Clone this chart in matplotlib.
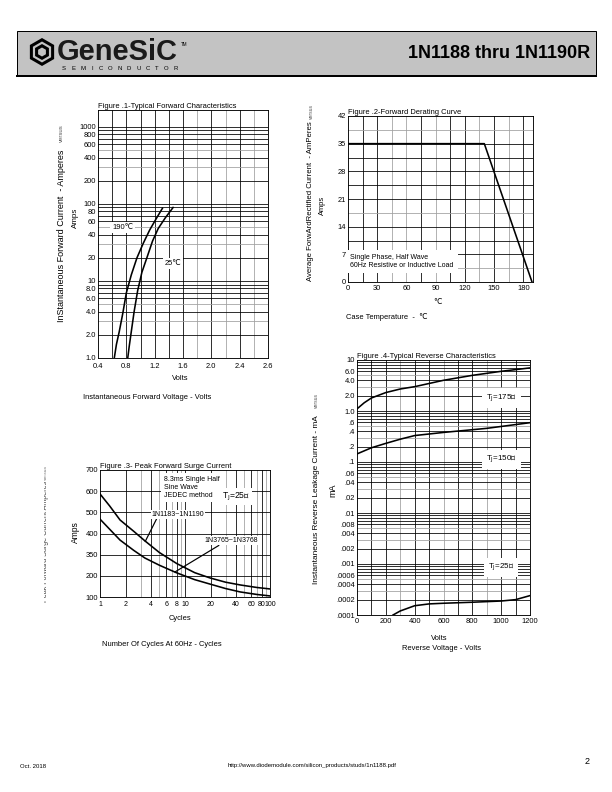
import numpy as np
import matplotlib.pyplot as plt
from matplotlib.patches import Rectangle, Polygon
from matplotlib.transforms import Bbox, TransformedBbox

plt.rcParams['font.family'] = ['Liberation Sans', 'DejaVu Sans']
plt.rcParams['mathtext.fontset'] = 'dejavusans'

# Figure 1 - typical forward characteristics
v_190 = [0.63, 0.66, 0.70, 0.75, 0.80, 0.87, 0.95, 1.04, 1.13, 1.22, 1.31]
i_190 = [1.0, 1.5, 2.2, 3.8, 7.0, 12, 20, 31, 46, 64, 88]
v_25 = [0.82, 0.84, 0.87, 0.91, 0.96, 1.02, 1.09, 1.17, 1.25, 1.35, 1.46]
i_25 = [1.0, 1.4, 2.2, 4.0, 7.5, 13, 20, 33, 48, 66, 90]
f1_yticks = [1000, 800, 600, 400, 200, 100, 80, 60, 40, 20, 10, 8, 6, 4, 2, 1]
f1_ylabels = ['1000', '800', '600', '400', '200', '100', '80', '60', '40', '20',
              '10', '8.0', '6.0', '4.0', '2.0', '1.0']
f1_xticks = [0.4, 0.8, 1.2, 1.6, 2.0, 2.4, 2.8]
f1_xlabels = ['0.4', '0.8', '1.2', '1.6', '2.0', '2.4', '2.6']

# Figure 2 - forward derating curve
case_temp = [0, 140, 189]
avg_current = [35, 35, 0]

# Figure 3 - peak forward surge current
cycles = [1, 1.3, 1.72, 2.5, 3.38, 5, 8, 13, 19.7, 30, 44.5, 70, 100]
surge_1n1183 = [587, 530, 464, 410, 365, 310, 258, 215, 190, 170, 157, 145, 138]
surge_1n3765 = [468, 420, 369, 320, 284, 250, 214, 182, 161, 140, 124, 112, 105]
f3_xticks = [1, 2, 4, 6, 8, 10, 20, 40, 60, 80, 100]
f3_yticks = [100, 200, 300, 400, 500, 600, 700]
f3_ylabels = ['100', '200', '350', '400', '500', '600', '700']

# Figure 4 - typical reverse characteristics
vr_175 = [0, 50, 100, 200, 300, 400, 600, 800, 1000, 1200]
ir_175 = [1.1, 1.45, 1.8, 2.3, 2.7, 3.0, 4.0, 5.0, 6.0, 7.0]
vr_150 = [0, 100, 200, 300, 400, 600, 900, 1200]
ir_150 = [0.144, 0.19, 0.232, 0.28, 0.33, 0.38, 0.457, 0.59]
vr_25 = [250, 300, 400, 500, 600, 800, 1000, 1100, 1200]
ir_25 = [0.0001, 0.00012, 0.000152, 0.000165, 0.00017, 0.000178, 0.000188, 0.0002, 0.00024]
f4_yticks = [10, 6, 4, 2, 1, .6, .4, .2, .1, .06, .04, .02, .01, .006, .004, .002,
             .001, .0006, .0004, .0002, .0001]
f4_ylabels = ['10', '6.0', '4.0', '2.0', '1.0', '.6', '.4', '.2', '.1', '.06', '.04',
              '.02', '.01', '.008', '.004', '.002', '.001', '.0006', '.0004', '.0002', '.0001']

W, H = 612, 792
fig = plt.figure(figsize=(W / 72, H / 72), dpi=72)


def rect(l, t, r, b):
    return [l / W, 1 - b / H, (r - l) / W, (b - t) / H]


def ftext(x, y, s, **kw):
    return fig.text(x / W, 1 - y / H, s, **kw)


def grid(ax, xs, ys, gray_x=(), gray_y=()):
    for x in xs:
        ax.axvline(x, color='#a0a0a0' if x in gray_x else 'black', lw=0.8, zorder=1)
    for y in ys:
        ax.axhline(y, color='#a0a0a0' if y in gray_y else 'black', lw=0.8, zorder=1)


def style(ax, xpad=2):
    ax.tick_params(length=0, labelsize=7.5, pad=2)
    ax.tick_params(axis='x', pad=xpad)
    for s in ax.spines.values():
        s.set_linewidth(0.9)


def log_minor(lo, hi):
    out = []
    for d in range(lo, hi):
        out += [k * 10.0 ** d for k in range(1, 10)]
    return out


white = dict(facecolor='white', edgecolor='none', pad=2)

# header
fig.add_artist(Rectangle((17 / W, 1 - 76 / H), 579 / W, 45 / H, transform=fig.transFigure,
                         facecolor='#c3c3c3', edgecolor='black', lw=1))
fig.add_artist(plt.Line2D([17 / W, 596 / W], [1 - 76 / H, 1 - 76 / H], color='black', lw=2))
ang = np.radians(np.arange(90, 450, 60))
for r, c in [(14, 'black'), (10.5, '#c3c3c3'), (8, 'black'), (4.5, '#c3c3c3')]:
    pts = [((42 + r * np.cos(a)) / W, 1 - (52 - r * np.sin(a)) / H) for a in ang]
    fig.add_artist(Polygon(pts, closed=True, transform=fig.transFigure, facecolor=c, edgecolor='none'))
ftext(57, 52, 'GeneSiC', fontsize=29, fontweight='bold', color='#1a1a1a', va='center')
ftext(181, 44, 'TM', fontsize=4.5, va='center')
for k, ch in enumerate('SEMICONDUCTOR'):
    ftext(64 + k * 9.3, 68, ch, fontsize=6, ha='center', va='center')
ftext(590, 53, '1N1188 thru 1N1190R', fontsize=18, fontweight='bold', ha='right', va='center')

# ---- Figure 1
ax1 = fig.add_axes(rect(98, 110, 268, 358))
grid(ax1, np.round(np.arange(0.6, 2.8, 0.2), 1), log_minor(0, 4),
     gray_x=(1.8, 2.2, 2.6), gray_y=(3, 5, 30, 50, 300, 500, 3000))
ax1.plot(v_190, i_190, color='black', lw=1.6, zorder=3)
ax1.plot(v_25, i_25, color='black', lw=1.6, zorder=3)
ax1.set_yscale('log')
ax1.set_xlim(0.4, 2.8)
ax1.set_ylim(1, 10 ** 3.22)
ax1.set_yticks(f1_yticks, f1_ylabels)
ax1.minorticks_off()
ax1.set_xticks(f1_xticks, f1_xlabels)
style(ax1, xpad=5)
ax1.text(0.75, 50, '190\u2103', fontsize=7.5, ha='center', va='center', bbox=white, zorder=4)
ax1.text(1.46, 17, '25\u2103', fontsize=7.5, ha='center', va='center', bbox=white, zorder=4)
ax1.set_title('Figure .1-Typical Forward Characteristics', fontsize=7.5, loc='left', pad=2)
ftext(180, 378, 'Volts', fontsize=7.5, ha='center', va='center')
ftext(147, 398, 'Instantaneous Forward Voltage - Volts', fontsize=7.5, ha='center', va='center')
ftext(61, 322, 'InStantaneous Forward Current  - Amperes', fontsize=9, rotation=90,
      ha='center', va='bottom')
ftext(61, 124, 'versus', fontsize=6, rotation=90, ha='center', va='top', color='#555555')
ftext(75, 218, 'Amps', fontsize=8, rotation=90, ha='center', va='center')

# ---- Figure 2
ax2 = fig.add_axes(rect(348, 116, 533, 282))
grid(ax2, np.arange(15, 190, 15), np.arange(3.5, 42, 3.5),
     gray_x=(45, 60, 90, 135, 165), gray_y=(38.5, 17.5, 3.5))
ax2.plot(case_temp, avg_current, color='black', lw=1.6, zorder=3)
ax2.set_xlim(0, 190)
ax2.set_ylim(0, 42)
ax2.set_xticks(np.arange(0, 181, 30))
ax2.set_yticks(np.arange(0, 43, 7))
style(ax2, xpad=3)
ax2.set_xticklabels([str(v) for v in range(0, 181, 30)])
ax2.text(2.5, 5.2, 'Single Phase, Half Wave\n60Hz Resistive or Inductive Load', fontsize=7,
         ha='left', va='center', linespacing=1.3,
         bbox=dict(facecolor='white', edgecolor='none', pad=4), zorder=4)
ax2.set_title('Figure .2-Forward Derating Curve', fontsize=7.5, loc='left', pad=2)
ftext(437, 303, '\u2103', fontsize=7.5, ha='center', va='center')
ftext(346, 317, 'Case Temperature  -  \u2103', fontsize=7.5, ha='left', va='center')
ftext(311, 281, 'Average ForwArdRectified Current  - AmPeres', fontsize=7.8, rotation=90,
      ha='center', va='bottom')
ftext(311, 104, 'versus', fontsize=5, rotation=90, ha='center', va='top', color='#555555')
ftext(322, 205, 'Amps', fontsize=7.5, rotation=90, ha='center', va='center')

# ---- Figure 3
ax3 = fig.add_axes(rect(100, 470, 270, 597))
grid(ax3, log_minor(0, 2)[1:] + [100], [200, 300, 400, 500, 600],
     gray_x=(3, 5, 7, 9, 30, 50, 70, 90))
ax3.plot(cycles, surge_1n1183, color='black', lw=1.6, zorder=3)
ax3.plot(cycles, surge_1n3765, color='black', lw=1.6, zorder=3)
ax3.set_xscale('log')
ax3.set_xlim(1, 100)
ax3.set_ylim(100, 700)
ax3.minorticks_off()
ax3.set_xticks(f3_xticks, [str(v) for v in f3_xticks])
ax3.set_yticks(f3_yticks, f3_ylabels)
style(ax3, xpad=4)
ax3.tick_params(axis='x', labelsize=7)
ax3.text(5.6, 618, '8.3ms Single Half\nSine Wave\nJEDEC method', fontsize=7, ha='left',
         va='center', linespacing=1.15, bbox=dict(facecolor='white', edgecolor='none', pad=3),
         zorder=4)
ax3.text(27, 575, r'T$_{\rm J}$=25' + '\u2103', fontsize=8.5, ha='left', va='center',
         bbox=white, zorder=4)
ax3.annotate('1N1183~1N1190', xy=(3.4, 362), xytext=(8.3, 490), fontsize=7, ha='center',
             va='center', bbox=dict(facecolor='white', edgecolor='none', pad=1),
             arrowprops=dict(arrowstyle='-', color='black', lw=1.2, shrinkA=0, shrinkB=0,
                             relpos=(0.1, 0.0)), zorder=4)
ax3.annotate('1N3765~1N3768', xy=(7.6, 218), xytext=(35, 365), fontsize=7, ha='center',
             va='center', bbox=dict(facecolor='white', edgecolor='none', pad=1),
             arrowprops=dict(arrowstyle='-', color='black', lw=1.2, shrinkA=0, shrinkB=0,
                             relpos=(0.3, 0.0)), zorder=4)
ax3.set_title('Figure .3- Peak Forward Surge Current', fontsize=7.5, loc='left', pad=2)
ftext(180, 618, 'Cycles', fontsize=7.5, ha='center', va='center')
ftext(162, 644, 'Number Of Cycles At 60Hz - Cycles', fontsize=7.5, ha='center', va='center')
t = ftext(45.5, 602, 'Peak Forward Surge Current Amperes', fontsize=7.1, rotation=90,
          ha='center', va='bottom', color='#444444')
t2 = ftext(45.5, 465, 'versus', fontsize=5, rotation=90, ha='center', va='top', color='#777777')
for tt in (t, t2):
    tt.set_clip_box(TransformedBbox(Bbox.from_extents(44 / W, 0, 1, 1), fig.transFigure))
    tt.set_clip_on(True)
ftext(75, 532, 'Amps', fontsize=8.5, rotation=90, ha='center', va='center')

# ---- Figure 4
ax4 = fig.add_axes(rect(357, 360, 530, 615))
grid(ax4, np.arange(100, 1200, 100), log_minor(-4, 1)[1:],
     gray_x=(300, 600, 900),
     gray_y=tuple(k * 10.0 ** d for d in range(-4, 1) for k in (3, 5)))
ax4.plot(vr_175, ir_175, color='black', lw=1.6, zorder=3)
ax4.plot(vr_150, ir_150, color='black', lw=1.6, zorder=3)
ax4.plot(vr_25, ir_25, color='black', lw=1.6, zorder=3)
ax4.set_yscale('log')
ax4.set_xlim(0, 1200)
ax4.set_ylim(1e-4, 10)
ax4.minorticks_off()
ax4.set_yticks(f4_yticks, f4_ylabels)
ax4.set_xticks(np.arange(0, 1201, 200))
style(ax4, xpad=3)
box4 = dict(facecolor='white', edgecolor='none', pad=4)
for yy, s in [(1.8, '175'), (0.11, '150'), (0.00085, '25')]:
    ax4.text(1000, yy, r'T$_{\rm J}$=' + s + '\u2103', fontsize=8, ha='center', va='center',
             bbox=box4, zorder=4)
ax4.set_title('Figure .4-Typical Reverse Characteristics', fontsize=7.5, loc='left', pad=2)
ftext(439, 638, 'Volts', fontsize=7.5, ha='center', va='center')
ftext(442, 649, 'Reverse Voltage - Volts', fontsize=7.5, ha='center', va='center')
ftext(316, 584, 'Instantaneous Reverse Leakage Current - mA', fontsize=8.3, rotation=90,
      ha='center', va='bottom')
ftext(316, 393, 'versus', fontsize=5, rotation=90, ha='center', va='top', color='#555555')
ftext(333, 490, 'mA', fontsize=9, rotation=90, ha='center', va='center')

# footer
ftext(20, 766, 'Oct. 2018', fontsize=6, ha='left', va='center')
ftext(312, 766, 'http://www.diodemodule.com/silicon_products/studs/1n1188.pdf', fontsize=6,
      ha='center', va='center')
ftext(590, 762, '2', fontsize=9, ha='right', va='center')

fig.savefig('out.png', dpi=72)
